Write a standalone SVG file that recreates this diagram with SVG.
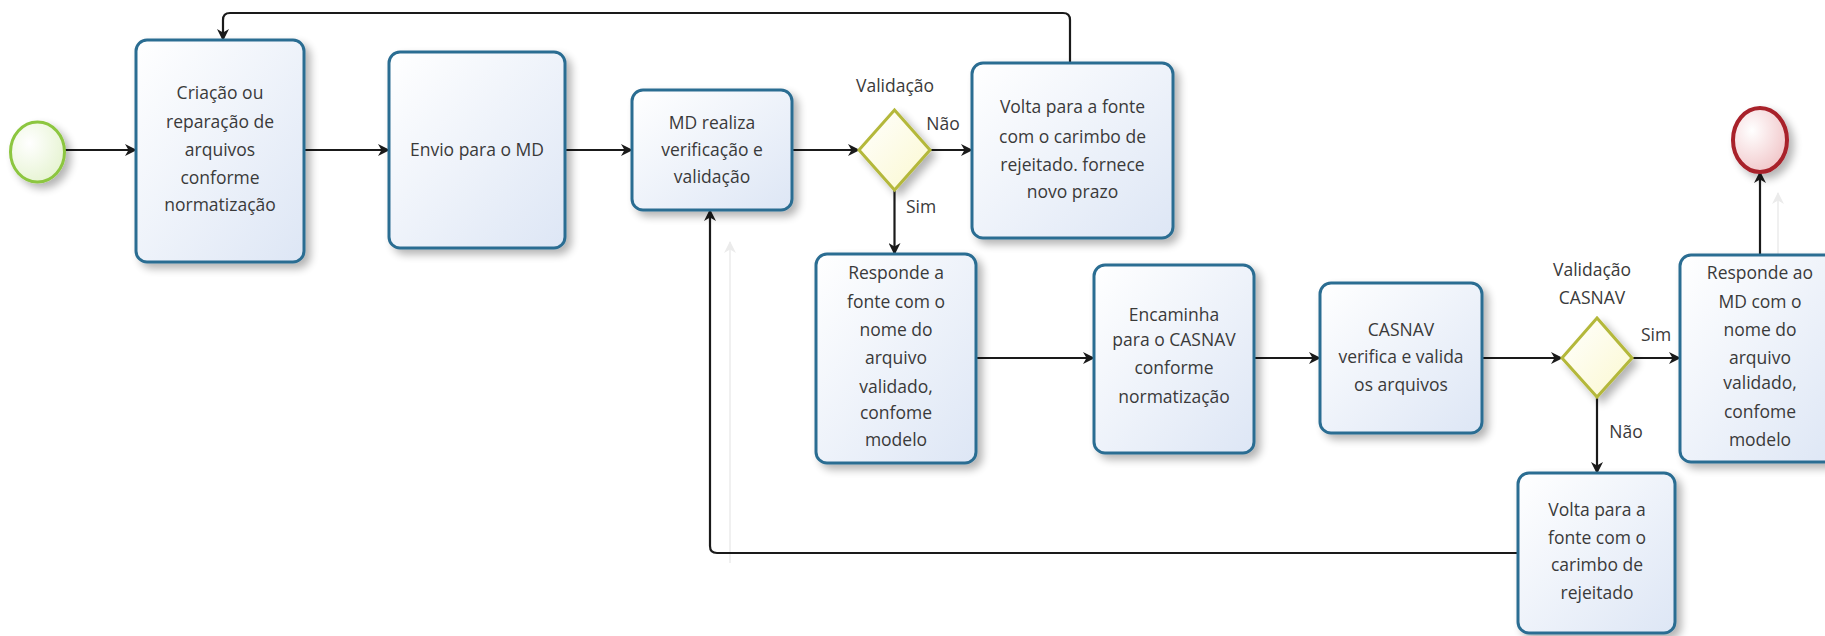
<svg xmlns="http://www.w3.org/2000/svg" width="1825" height="636" viewBox="0 0 1825 636">
<defs>
<style>
.task{fill:url(#gTask);stroke:#2c6d92;stroke-width:3;filter:url(#sh)}
.gw{fill:url(#gGw);stroke:#b4b83a;stroke-width:3;filter:url(#sh)}
.t{font-family:"Open Sans","Noto Sans",sans-serif;font-size:17.5px;fill:#3a3a3a;text-anchor:middle}
.lbl{font-family:"Open Sans","Noto Sans",sans-serif;font-size:17.5px;fill:#3a3a3a;text-anchor:middle}
.c{fill:none;stroke:#1a1a1a;stroke-width:2.2}
.ghost{fill:none;stroke:#f0f0f0;stroke-width:2}
</style>
<linearGradient id="gTask" x1="0" y1="0" x2="1" y2="1">
<stop offset="0" stop-color="#ffffff"/><stop offset="1" stop-color="#dde6f5"/>
</linearGradient>
<linearGradient id="gGw" x1="0" y1="0" x2="1" y2="1">
<stop offset="0" stop-color="#ffffff"/><stop offset="1" stop-color="#fbf8cf"/>
</linearGradient>
<radialGradient id="gStart" cx="0.35" cy="0.35" r="0.8">
<stop offset="0" stop-color="#ffffff"/><stop offset="1" stop-color="#e3f2cc"/>
</radialGradient>
<radialGradient id="gEnd" cx="0.35" cy="0.35" r="0.8">
<stop offset="0" stop-color="#ffffff"/><stop offset="1" stop-color="#efbfc2"/>
</radialGradient>
<filter id="sh" x="-20%" y="-20%" width="150%" height="150%">
<feGaussianBlur in="SourceAlpha" stdDeviation="4"/>
<feOffset dx="5" dy="5" result="b"/>
<feComponentTransfer><feFuncA type="linear" slope="0.3"/></feComponentTransfer>
<feMerge><feMergeNode/><feMergeNode in="SourceGraphic"/></feMerge>
</filter>
<marker id="arr" viewBox="0 0 12 12" refX="11" refY="6" markerWidth="12" markerHeight="12" markerUnits="userSpaceOnUse" orient="auto">
<path d="M0,0 L12,6 L0,12 L3.5,6 z" fill="#1a1a1a"/>
</marker>
<marker id="arrG" viewBox="0 0 12 12" refX="11" refY="6" markerWidth="12" markerHeight="12" markerUnits="userSpaceOnUse" orient="auto">
<path d="M0,0 L12,6 L0,12 L3.5,6 z" fill="#ebebeb"/>
</marker>
</defs>
<rect width="1825" height="636" fill="#ffffff"/>

<g id="connectors">
<path class="ghost" d="M730,563 V242" marker-end="url(#arrG)"/>
<path class="ghost" d="M1778,255 V193" marker-end="url(#arrG)"/>
<path class="c" d="M65,150 H136" marker-end="url(#arr)"/>
<path class="c" d="M304,150 H389" marker-end="url(#arr)"/>
<path class="c" d="M565,150 H632" marker-end="url(#arr)"/>
<path class="c" d="M792,150 H859" marker-end="url(#arr)"/>
<path class="c" d="M930,150 H972" marker-end="url(#arr)"/>
<path class="c" d="M894.5,190 V254" marker-end="url(#arr)"/>
<path class="c" d="M1070,63 V20 Q1070,13 1063,13 H230 Q223,13 223,20 V40" marker-end="url(#arr)"/>
<path class="c" d="M976,358 H1094" marker-end="url(#arr)"/>
<path class="c" d="M1254,358 H1320" marker-end="url(#arr)"/>
<path class="c" d="M1482,358 H1562" marker-end="url(#arr)"/>
<path class="c" d="M1632,358 H1680" marker-end="url(#arr)"/>
<path class="c" d="M1597,397 V473" marker-end="url(#arr)"/>
<path class="c" d="M1518,553 H717 Q710,553 710,546 V210" marker-end="url(#arr)"/>
<path class="c" d="M1760,255 V172" marker-end="url(#arr)"/>
<text class="lbl" x="895" y="92">Validação</text>
<text class="lbl" x="943" y="130">Não</text>
<text class="lbl" x="921" y="213">Sim</text>
<text class="lbl" x="1592" y="276">Validação</text>
<text class="lbl" x="1592" y="304">CASNAV</text>
<text class="lbl" x="1656" y="341">Sim</text>
<text class="lbl" x="1626" y="438">Não</text>
</g>

<g id="start">
<ellipse cx="37.5" cy="152" rx="27" ry="30" fill="url(#gStart)" stroke="#8cc63f" stroke-width="3" filter="url(#sh)"/>
</g>
<g id="end">
<ellipse cx="1760" cy="140" rx="27" ry="32" fill="url(#gEnd)" stroke="#a8202a" stroke-width="4" filter="url(#sh)"/>
</g>

<g id="task1">
<rect class="task" x="136" y="40" width="168" height="222" rx="11"/>
<text class="t" x="220" y="99">Criação ou</text>
<text class="t" x="220" y="128">reparação de</text>
<text class="t" x="220" y="156">arquivos</text>
<text class="t" x="220" y="184">conforme</text>
<text class="t" x="220" y="211">normatização</text>
</g>
<g id="task2">
<rect class="task" x="389" y="52" width="176" height="196" rx="11"/>
<text class="t" x="477" y="156">Envio para o MD</text>
</g>
<g id="task3">
<rect class="task" x="632" y="90" width="160" height="120" rx="11"/>
<text class="t" x="712" y="129">MD realiza</text>
<text class="t" x="712" y="156">verificação e</text>
<text class="t" x="712" y="183">validação</text>
</g>
<g id="gateway1">
<polygon class="gw" points="894.5,110 930,150 894.5,190 859,150"/>
</g>
<g id="task4">
<rect class="task" x="972" y="63" width="201" height="175" rx="11"/>
<text class="t" x="1072.5" y="113">Volta para a fonte</text>
<text class="t" x="1072.5" y="143">com o carimbo de</text>
<text class="t" x="1072.5" y="171">rejeitado. fornece</text>
<text class="t" x="1072.5" y="198">novo prazo</text>
</g>
<g id="task5">
<rect class="task" x="816" y="254" width="160" height="209" rx="11"/>
<text class="t" x="896" y="279">Responde a</text>
<text class="t" x="896" y="308">fonte com o</text>
<text class="t" x="896" y="336">nome do</text>
<text class="t" x="896" y="364">arquivo</text>
<text class="t" x="896" y="393">validado,</text>
<text class="t" x="896" y="419">confome</text>
<text class="t" x="896" y="446">modelo</text>
</g>
<g id="task6">
<rect class="task" x="1094" y="265" width="160" height="188" rx="11"/>
<text class="t" x="1174" y="321">Encaminha</text>
<text class="t" x="1174" y="346">para o CASNAV</text>
<text class="t" x="1174" y="374">conforme</text>
<text class="t" x="1174" y="403">normatização</text>
</g>
<g id="task7">
<rect class="task" x="1320" y="283" width="162" height="150" rx="11"/>
<text class="t" x="1401" y="336">CASNAV</text>
<text class="t" x="1401" y="363">verifica e valida</text>
<text class="t" x="1401" y="391">os arquivos</text>
</g>
<g id="gateway2">
<polygon class="gw" points="1597,318 1632,358 1597,397 1562,358"/>
</g>
<g id="task8">
<rect class="task" x="1680" y="255" width="160" height="207" rx="11"/>
<text class="t" x="1760" y="279">Responde ao</text>
<text class="t" x="1760" y="308">MD com o</text>
<text class="t" x="1760" y="336">nome do</text>
<text class="t" x="1760" y="364">arquivo</text>
<text class="t" x="1760" y="389">validado,</text>
<text class="t" x="1760" y="418">confome</text>
<text class="t" x="1760" y="446">modelo</text>
</g>
<g id="task9">
<rect class="task" x="1518" y="473" width="157" height="160" rx="11"/>
<text class="t" x="1597" y="516">Volta para a</text>
<text class="t" x="1597" y="544">fonte com o</text>
<text class="t" x="1597" y="571">carimbo de</text>
<text class="t" x="1597" y="599">rejeitado</text>
</g>
</svg>
